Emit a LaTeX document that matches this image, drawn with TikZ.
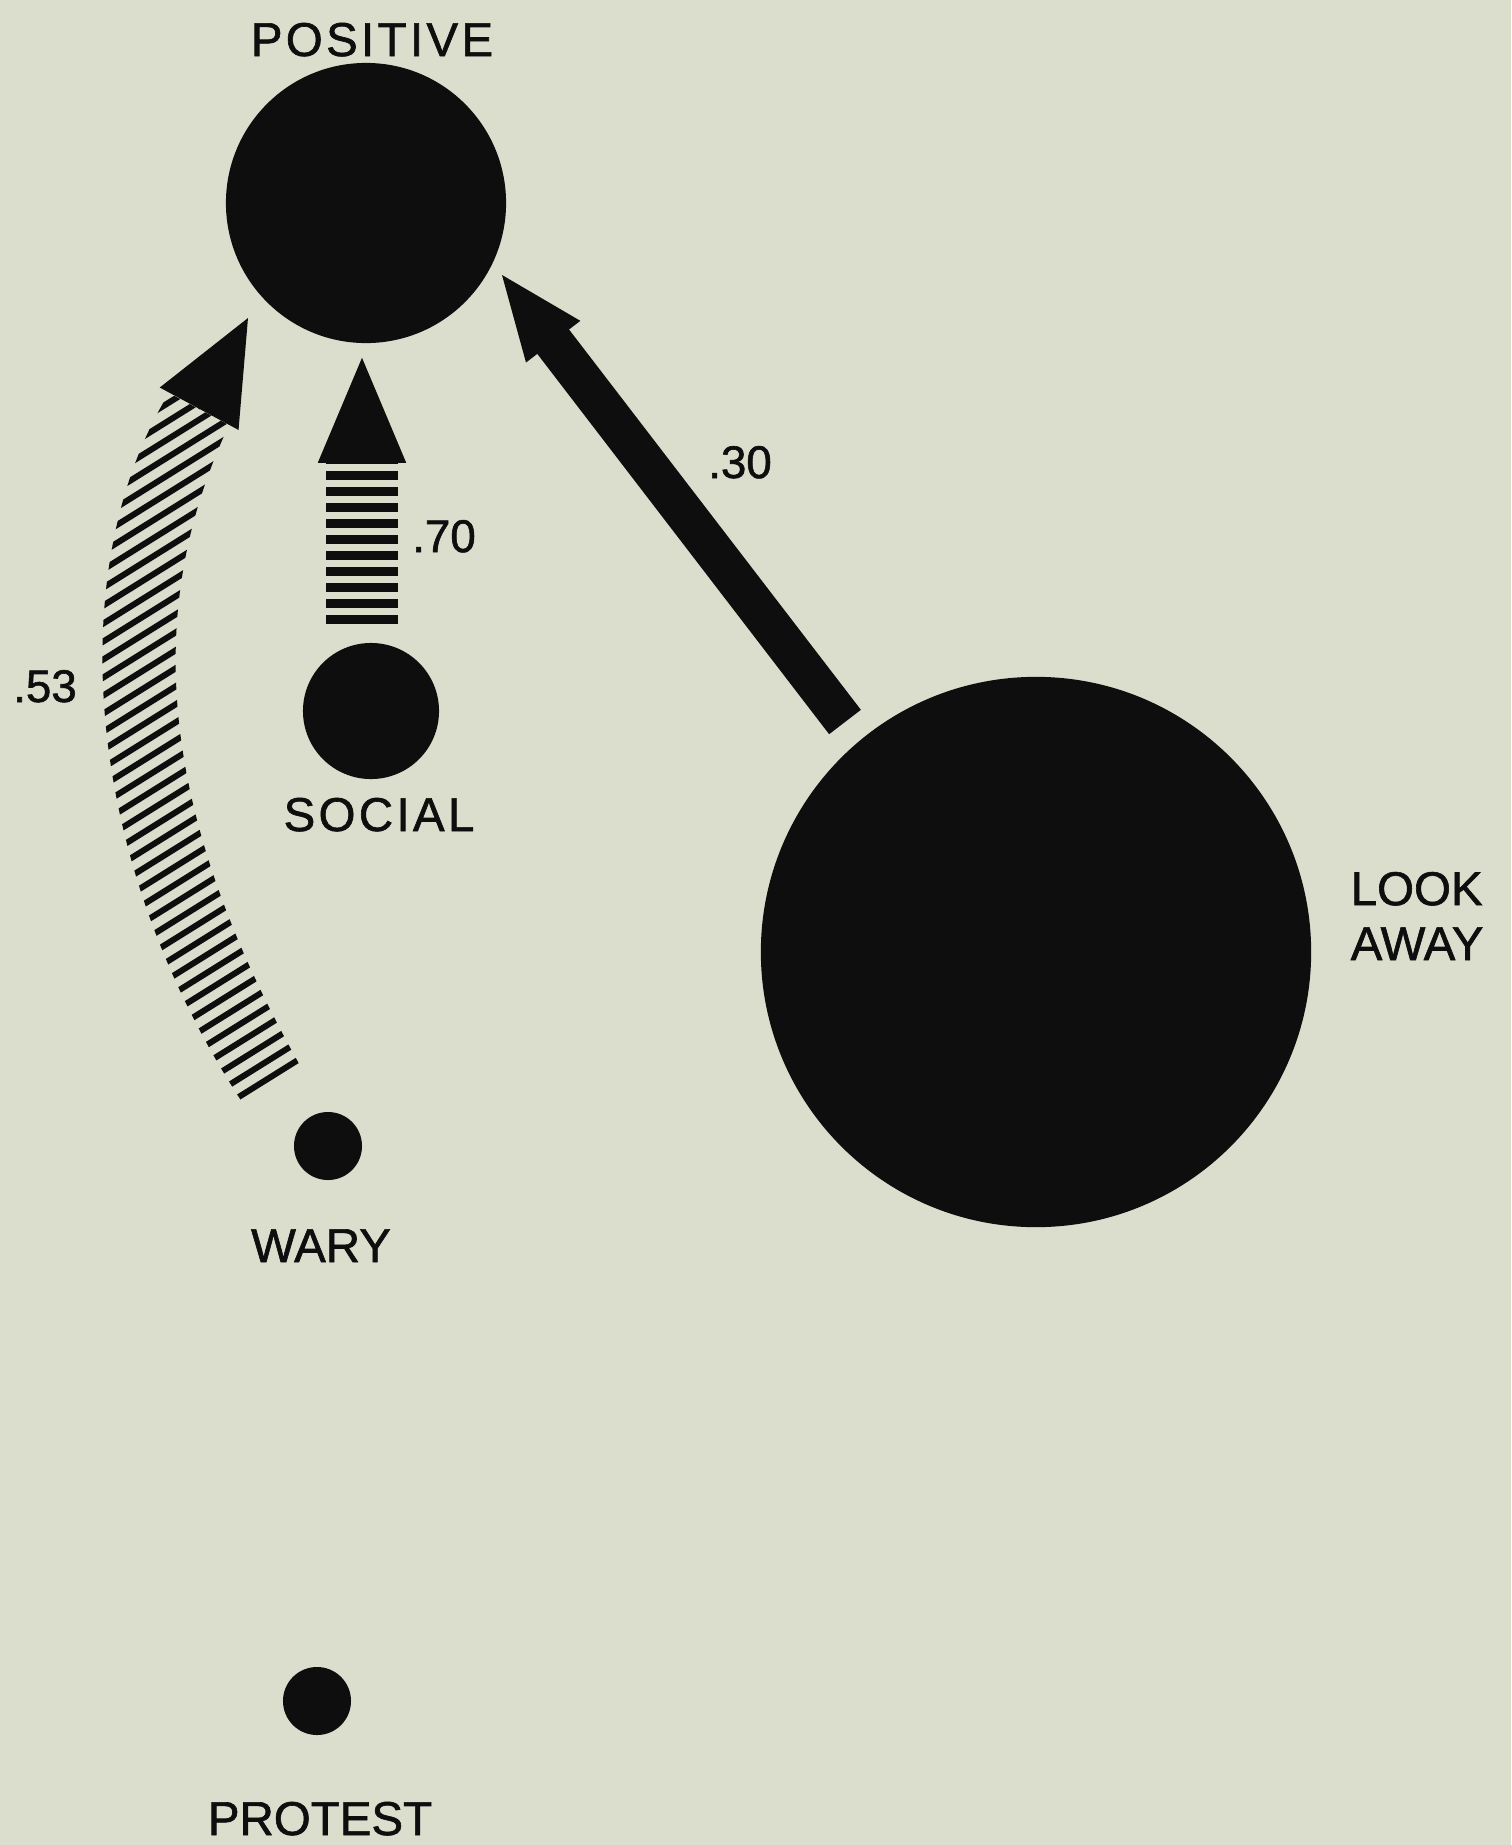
\documentclass[tikz,border=0pt]{standalone}
\usepackage{fontspec}
\setmainfont{Liberation Sans}
\newfontfamily\tagfont{Liberation Sans}[FakeBold=1.3]
\usetikzlibrary{arrows.meta,calc}
\definecolor{paper}{RGB}{219,221,205}
\definecolor{ink}{RGB}{14,14,14}
\tikzset{
  state/.style={circle,fill=ink,inner sep=0pt,minimum size=#1},
  name tag/.style={font=\tagfont\fontsize{13.5pt}{15.6pt}\selectfont,text=ink,inner sep=0pt,anchor=base},
  wide tag/.style={name tag,font=\tagfont\fontsize{13.5pt}{15.6pt}\selectfont\addfontfeature{LetterSpace=7}},
  prob/.style={font=\tagfont\fontsize{13pt}{15pt}\selectfont,text=ink,inner sep=0pt,anchor=base},
  solid flow/.style={draw=ink,line width=0.40cm,-{Triangle[length=0.84cm,width=0.68cm,line width=0.5pt]}},
  bar flow/.style={draw=ink,line width=0.71cm,dash pattern=on 0.09cm off 0.07cm,
    -{Triangle[length=1.05cm,width=0.88cm,line width=0.5pt]}},
  hatch/.style={draw=ink,line width=0.06cm},
  head only/.style={draw=ink,line width=0.5pt,-{Triangle[length=1.03cm,width=0.89cm,line width=0.5pt]}},
}
\begin{document}
\begin{tikzpicture}[x=0.01cm,y=-0.01cm]
  \fill[paper] (0,0) rectangle (1511,1845);
  \useasboundingbox (0,0) rectangle (1511,1845);

  % states
  \node[state=2.80cm] (pos) at (366,203) {};
  \node[state=1.36cm] (soc) at (371,711) {};
  \node[state=0.68cm] (wary) at (328,1146) {};
  \node[state=0.68cm] (prot) at (317,1701) {};
  \node[state=5.50cm] (look) at (1036,952) {};

  \node[wide tag] (tpos) at (372,56) {POSITIVE};
  \node[wide tag] (tsoc) at (379,831) {SOCIAL};
  \node[name tag] (twary) at (321,1262) {WARY};
  \node[name tag] (tprot) at (320,1835) {PROTEST};
  \node[name tag,anchor=base west,align=left] (tlook) at (1350,960) {LOOK\\AWAY};

  % social -> positive
  \coordinate (s0) at ($(soc.north)+(-9,-18)$);
  \coordinate (s1) at ($(pos.south)+(-4,14)$);
  \draw[bar flow] (s0) -- (s1);
  \node[prob] (p70) at (444,552) {.70};

  % look away -> positive
  \coordinate (l0) at ($(look)+(-191,-230)$);
  \coordinate (l1) at ($(pos)+(136,72)$);
  \draw[solid flow] (l0) -- (l1);
  \node[prob] (p30) at (740,478) {.30};

  % wary -> positive (hatched band)
  \coordinate (w0) at ($(wary)+(-55,-59)$);
  \coordinate (w1) at ($(pos)+(-167,206)$);
  \coordinate (w2) at ($(pos)+(-118,115)$);
  \begin{scope}
    \clip (244,1105) .. controls (79,855) and (64,565) .. (169,393) -- (229,425)
      .. controls (144,607) and (155,809) .. (302,1069) -- cycle;
    \foreach \c in {400,418,...,1330}
      \draw[hatch] (40,\c-25) -- (330,\c-206);
  \end{scope}
  \draw[head only] (w1) -- (w2);
  \node[prob] (p53) at (45,702) {.53};
\end{tikzpicture}
\end{document}
